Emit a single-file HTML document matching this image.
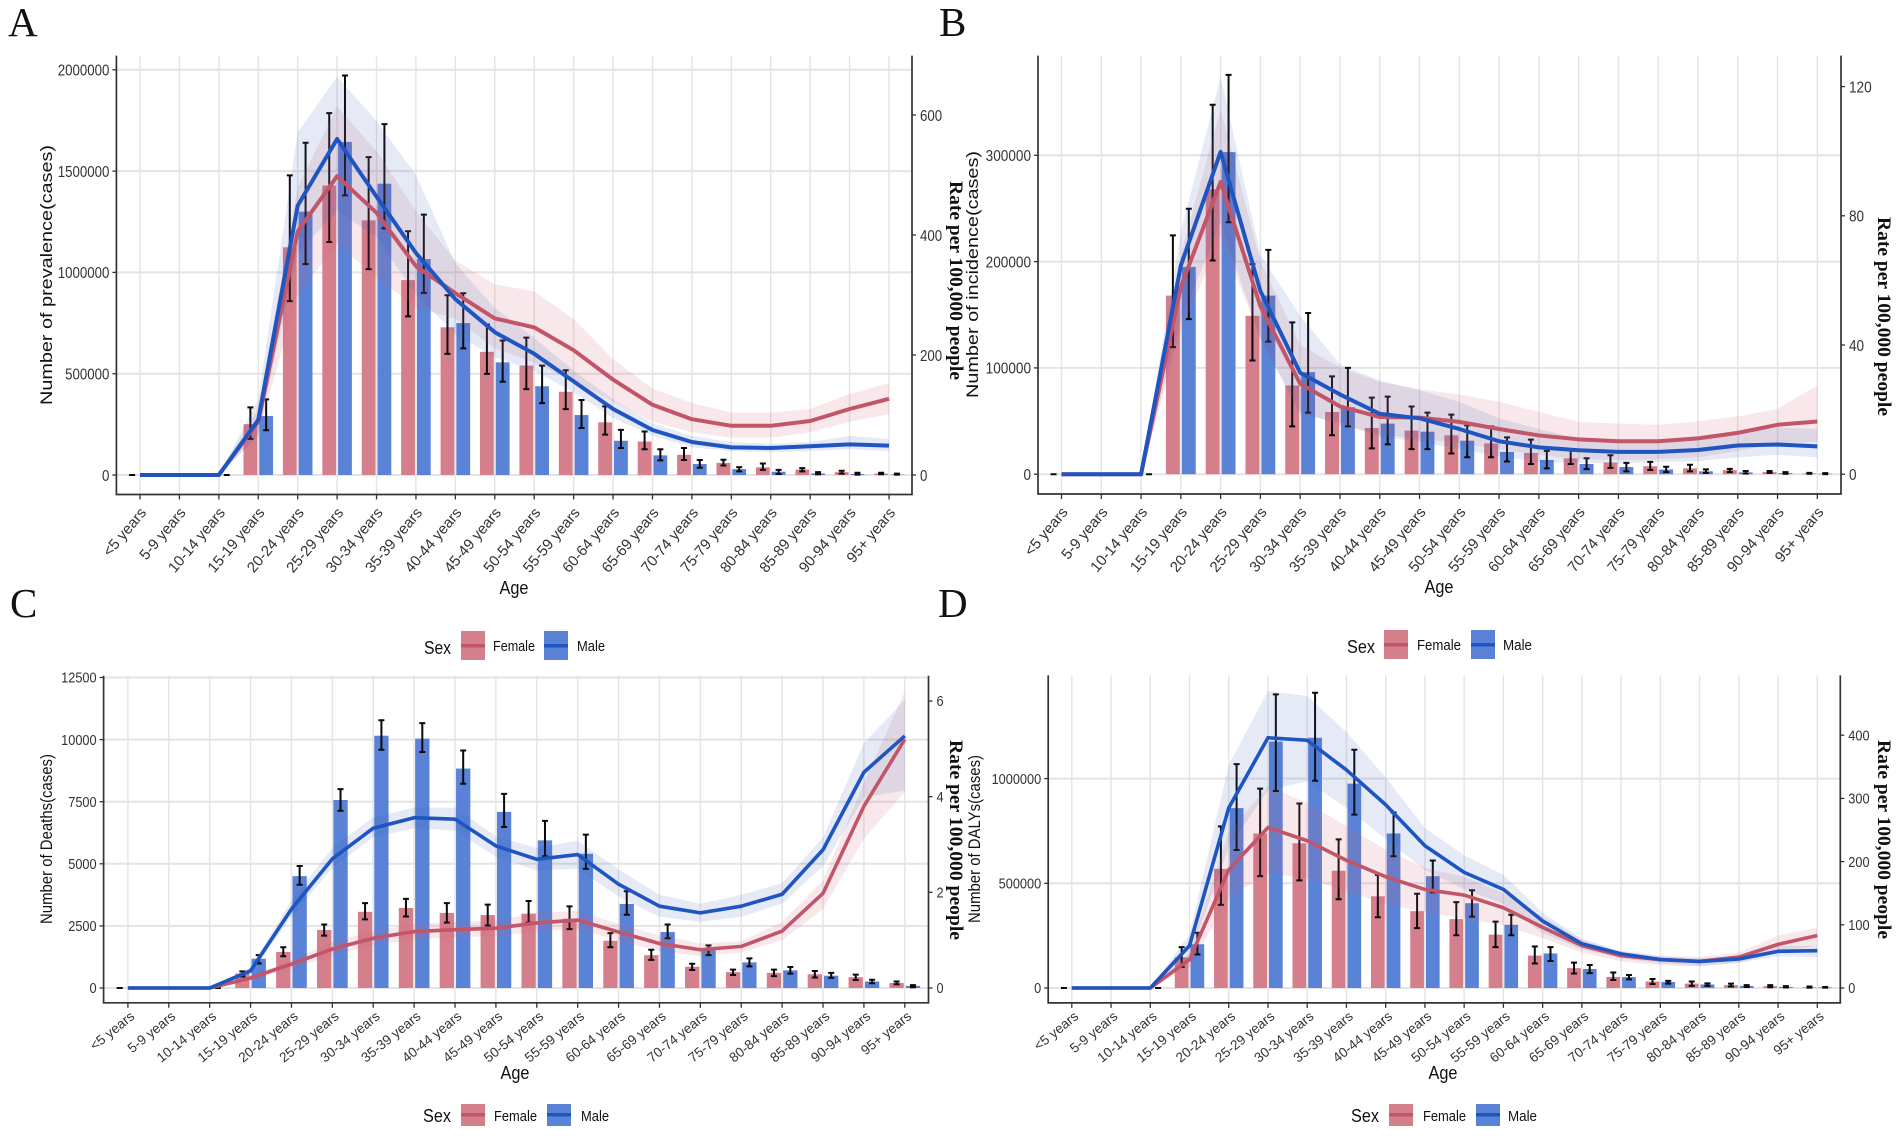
<!DOCTYPE html>
<html lang="en">
<head>
<meta charset="utf-8">
<title>Age and sex patterns of prevalence, incidence, deaths and DALYs</title>
<style>
html,body{margin:0;padding:0;background:#fff;}
svg{display:block;font-family:"Liberation Sans",sans-serif;filter:blur(0.35px);}
.letter{font-family:"Liberation Serif",serif;font-size:41px;fill:#111;}
.ytitle{font-size:16.5px;fill:#111;}
.rtitle{font-family:"Liberation Serif",serif;font-weight:bold;font-size:19px;fill:#111;}
.age{font-size:18px;fill:#111;}
.sex{font-size:18px;fill:#111;}
.lg{font-size:15px;fill:#111;}
</style>
</head>
<body>
<svg id="figure" xmlns="http://www.w3.org/2000/svg" width="1901" height="1136" viewBox="0 0 1901 1136">
<rect width="1901" height="1136" fill="#fff"/>

<g id="panel-a"></g>
<g id="panel-b"></g>
<g id="panel-c"></g>
<g id="panel-d"></g>

<g>
<text class="letter" x="8" y="36">A</text>
<text class="letter" x="939" y="36">B</text>
<text class="letter" x="10" y="617">C</text>
<text class="letter" x="938" y="617">D</text>
</g>

<g>
<text class="ytitle" transform="translate(52,405) rotate(-90)" textLength="260" lengthAdjust="spacingAndGlyphs">Number of prevalence(cases)</text>
<text class="ytitle" transform="translate(978,398) rotate(-90)" textLength="247" lengthAdjust="spacingAndGlyphs">Number of incidence(cases)</text>
<text class="ytitle" transform="translate(52,924) rotate(-90)" textLength="170" lengthAdjust="spacingAndGlyphs">Number of Deaths(cases)</text>
<text class="ytitle" transform="translate(980,923) rotate(-90)" textLength="168" lengthAdjust="spacingAndGlyphs">Number of DALYs(cases)</text>

<text class="rtitle" transform="translate(950,181) rotate(90)" textLength="199" lengthAdjust="spacingAndGlyphs">Rate per 100,000 people</text>
<text class="rtitle" transform="translate(1878,217) rotate(90)" textLength="199" lengthAdjust="spacingAndGlyphs">Rate per 100,000 people</text>
<text class="rtitle" transform="translate(950,740) rotate(90)" textLength="200" lengthAdjust="spacingAndGlyphs">Rate per 100,000 people</text>
<text class="rtitle" transform="translate(1878,740) rotate(90)" textLength="199" lengthAdjust="spacingAndGlyphs">Rate per 100,000 people</text>

<text class="age" x="514" y="594" text-anchor="middle" textLength="29" lengthAdjust="spacingAndGlyphs">Age</text>
<text class="age" x="1439" y="593" text-anchor="middle" textLength="29" lengthAdjust="spacingAndGlyphs">Age</text>
<text class="age" x="515" y="1079" text-anchor="middle" textLength="29" lengthAdjust="spacingAndGlyphs">Age</text>
<text class="age" x="1443" y="1079" text-anchor="middle" textLength="29" lengthAdjust="spacingAndGlyphs">Age</text>
</g>

<g>
<text class="sex" x="424" y="654" textLength="27" lengthAdjust="spacingAndGlyphs">Sex</text>
<rect x="461" y="631" width="24" height="29" fill="#d67f8c"/>
<rect x="461" y="644" width="24" height="3.5" fill="#c25568"/>
<text class="lg" x="493" y="651" textLength="42" lengthAdjust="spacingAndGlyphs">Female</text>
<rect x="544" y="631" width="24" height="29" fill="#5a83d8"/>
<rect x="544" y="644" width="24" height="3.5" fill="#1f55c0"/>
<text class="lg" x="577" y="651" textLength="28" lengthAdjust="spacingAndGlyphs">Male</text>
</g>
<g>
<text class="sex" x="1347" y="653" textLength="28" lengthAdjust="spacingAndGlyphs">Sex</text>
<rect x="1384" y="630" width="24" height="29" fill="#d67f8c"/>
<rect x="1384" y="643" width="24" height="3.5" fill="#c25568"/>
<text class="lg" x="1417" y="650" textLength="44" lengthAdjust="spacingAndGlyphs">Female</text>
<rect x="1471" y="630" width="24" height="29" fill="#5a83d8"/>
<rect x="1471" y="643" width="24" height="3.5" fill="#1f55c0"/>
<text class="lg" x="1503" y="650" textLength="29" lengthAdjust="spacingAndGlyphs">Male</text>
</g>
<g>
<text class="sex" x="423" y="1122" textLength="28" lengthAdjust="spacingAndGlyphs">Sex</text>
<rect x="461" y="1104" width="24" height="22" fill="#d67f8c"/>
<rect x="461" y="1113" width="24" height="3.5" fill="#c25568"/>
<text class="lg" x="494" y="1121" textLength="43" lengthAdjust="spacingAndGlyphs">Female</text>
<rect x="547" y="1104" width="24" height="22" fill="#5a83d8"/>
<rect x="547" y="1113" width="24" height="3.5" fill="#1f55c0"/>
<text class="lg" x="581" y="1121" textLength="28" lengthAdjust="spacingAndGlyphs">Male</text>
</g>
<g>
<text class="sex" x="1351" y="1122" textLength="28" lengthAdjust="spacingAndGlyphs">Sex</text>
<rect x="1389" y="1104" width="24" height="22" fill="#d67f8c"/>
<rect x="1389" y="1113" width="24" height="3.5" fill="#c25568"/>
<text class="lg" x="1423" y="1121" textLength="43" lengthAdjust="spacingAndGlyphs">Female</text>
<rect x="1476" y="1104" width="24" height="22" fill="#5a83d8"/>
<rect x="1476" y="1113" width="24" height="3.5" fill="#1f55c0"/>
<text class="lg" x="1508" y="1121" textLength="29" lengthAdjust="spacingAndGlyphs">Male</text>
</g>
</svg>

<script>
const ageCategories = ["<5 years","5-9 years","10-14 years","15-19 years","20-24 years","25-29 years","30-34 years","35-39 years","40-44 years","45-49 years","50-54 years","55-59 years","60-64 years","65-69 years","70-74 years","75-79 years","80-84 years","85-89 years","90-94 years","95+ years"];

/* Panel A: prevalence */
const prevCountTicks = [0,500000,1000000,1500000,2000000];
const prevRateTicks = [0,200,400,600];
const prevFemaleCount = [0,0,0,251000,1124000,1429000,1257000,962000,729000,608000,540000,411000,260000,165000,100000,60000,38000,27000,14000,7000];
const prevFemaleCountLow = [0,0,0,178000,858000,1150000,1016000,783000,598000,499000,424000,325000,199000,127000,74000,47000,25000,18000,7000,4000];
const prevFemaleCountHigh = [0,0,0,334000,1479000,1786000,1569000,1203000,887000,743000,678000,517000,339000,215000,133000,75000,57000,34000,21000,11000];
const prevMaleCount = [0,0,0,291000,1300000,1644000,1438000,1066000,750000,556000,438000,296000,169000,97000,54000,29000,16000,8000,5000,2000];
const prevMaleCountLow = [0,0,0,221000,1041000,1380000,1217000,899000,625000,460000,355000,232000,133000,72000,36000,18000,5000,4000,2000,2000];
const prevMaleCountHigh = [0,0,0,373000,1640000,1972000,1732000,1285000,897000,664000,540000,370000,223000,127000,74000,39000,25000,14000,11000,7000];
const prevFemaleRate = [0,0,0,89,406,498,437,348,303,261,246,208,159,117,93,82,82,90,110,127];
const prevFemaleRateLow = [0,0,0,68,300,385,330,280,260,211,187,156,123,89,71,62,62,71,89,101];
const prevFemaleRateHigh = [0,0,0,112,480,614,540,440,357,318,306,260,193,144,120,104,104,110,135,153];
const prevMaleRate = [0,0,0,92,449,560,464,370,293,238,202,156,110,75,55,46,45,48,51,49];
const prevMaleRateLow = [0,0,0,65,370,440,397,300,235,196,174,138,95,66,46,40,38,40,43,40];
const prevMaleRateHigh = [0,0,0,126,571,664,590,500,353,278,229,174,126,86,65,55,52,55,65,60];

/* Panel B: incidence */
const incCountTicks = [0,100000,200000,300000];
const incRateTicks = [0,40,80,120];
const incFemaleCount = [0,0,0,168000,268000,149000,83500,58500,43500,41000,36600,29000,20000,15000,11000,7500,5500,3800,2000,700];
const incFemaleCountLow = [0,0,0,119500,201000,107000,45000,36600,24300,23600,19500,16000,9600,9600,6000,4000,2700,2000,1300,400];
const incFemaleCountHigh = [0,0,0,224700,347600,197600,142800,92000,72000,63700,56000,45000,32500,23600,17800,11600,8900,5000,3000,1300];
const incMaleCount = [0,0,0,195000,303000,168000,96000,63000,47600,40000,31500,21000,13400,9600,6800,4400,2700,1700,1000,400];
const incMaleCountLow = [0,0,0,145900,237000,124700,57900,45000,28000,23600,16000,12000,5500,4800,2700,2000,1300,700,400,100];
const incMaleCountHigh = [0,0,0,249700,375700,211000,151700,100000,73000,57900,45900,34600,22000,15000,10600,7000,4500,3000,2000,1000];
const incFemaleRate = [0,0,0,58,90.5,52,28,21,17.7,17.5,16.2,14,12,10.8,10.2,10.2,11.1,12.8,15.3,16.3];
const incFemaleRateLow = [0,0,0,44,73.6,42,19.6,15,12.3,11,9.5,7.8,6,4.7,4.4,4.7,5.2,7.2,9.5,10];
const incFemaleRateHigh = [0,0,0,68,113,66,40,33,28.6,26.3,24.7,22.4,19.3,16.2,15.7,15.3,16.4,17.9,20.2,27.5];
const incMaleRate = [0,0,0,64.6,99.8,56.7,31.4,24.7,18.7,17.3,14,10.2,8.3,7.4,6.9,6.9,7.5,8.9,9.2,8.6];
const incMaleRateLow = [0,0,0,47.7,78,42,18.5,16,11.7,10,7.8,5.5,3.8,3.6,3.3,3.8,4,5.2,6,5.2];
const incMaleRateHigh = [0,0,0,75,123,68,49,34,29,26,22.4,17.3,14,11,10.4,10.2,11,12.8,14.5,14];

/* Panel C: deaths */
const deathCountTicks = [0,2500,5000,7500,10000,12500];
const deathRateTicks = [0,2,4,6];
const deathFemaleCount = [0,0,0,580,1453,2339,3066,3226,3022,2935,2993,2790,1903,1322,857,639,610,552,436,203];
const deathFemaleCountLow = [0,0,0,465,1279,2107,2761,2877,2630,2514,2630,2368,1642,1133,726,523,480,421,320,145];
const deathFemaleCountHigh = [0,0,0,668,1642,2557,3415,3589,3415,3356,3502,3284,2209,1540,974,741,741,683,538,262];
const deathMaleCount = [0,0,0,1177,4504,7570,10156,10040,8834,7090,5943,5405,3385,2252,1526,1032,712,494,262,87];
const deathMaleCountLow = [0,0,0,988,4156,7134,9590,9503,8224,6480,5303,4795,2950,2005,1322,872,581,407,189,29];
const deathMaleCountHigh = [0,0,0,1322,4911,8006,10781,10665,9561,7817,6727,6175,3894,2557,1715,1191,843,610,334,116];
const deathFemaleRate = [0,0,0,0.21,0.5,0.815,1.04,1.18,1.22,1.25,1.36,1.42,1.17,0.93,0.8,0.87,1.19,1.98,3.8,5.2];
const deathFemaleRateLow = [0,0,0,0.17,0.4,0.68,0.89,1.01,1.06,1.08,1.18,1.23,0.99,0.77,0.66,0.74,1,1.65,3.12,4.1];
const deathFemaleRateHigh = [0,0,0,0.25,0.59,0.97,1.19,1.34,1.38,1.42,1.57,1.61,1.34,1.1,0.93,0.98,1.38,2.25,4.29,6.2];
const deathMaleRate = [0,0,0,0.36,1.65,2.7,3.34,3.56,3.53,2.97,2.69,2.79,2.17,1.71,1.57,1.71,1.96,2.89,4.51,5.27];
const deathMaleRateLow = [0,0,0,0.3,1.49,2.51,3.15,3.34,3.29,2.74,2.46,2.49,1.91,1.49,1.38,1.49,1.76,2.55,3.98,4.13];
const deathMaleRateHigh = [0,0,0,0.44,1.83,2.93,3.57,3.77,3.77,3.17,2.93,3.08,2.48,1.95,1.76,1.95,2.19,3.15,5.12,6.02];

/* Panel D: DALYs */
const dalyCountTicks = [0,500000,1000000];
const dalyRateTicks = [0,100,200,300,400];
const dalyFemaleCount = [0,0,0,146500,569000,738000,691000,560000,438000,367000,329000,255000,155000,95000,53000,31000,21000,14000,9000,3500];
const dalyFemaleCountLow = [0,0,0,100000,397000,534000,514000,424000,338000,286000,252000,195000,117000,69000,38000,19000,10000,7000,3400,2000];
const dalyFemaleCountHigh = [0,0,0,195000,772000,952000,881000,710000,540000,450000,410000,317000,198000,121000,74000,43000,31000,21000,14000,7000];
const dalyMaleCount = [0,0,0,209000,859000,1177000,1195000,976000,738000,534000,405000,302000,165000,91000,52000,29000,17000,10000,5000,3000];
const dalyMaleCountLow = [0,0,0,160000,659000,941000,990000,828000,629000,457000,341000,252000,129000,71000,41000,21000,10000,5000,3000,2000];
const dalyMaleCountHigh = [0,0,0,264000,1069000,1402000,1410000,1138000,838000,609000,467000,350000,195000,110000,62000,34000,22000,14000,9000,5000];
const dalyFemaleRate = [0,0,0,45,187,254,233,202,176,156,147,127,96,67,51,45,42,49,69,83];
const dalyFemaleRateLow = [0,0,0,33,142,182,173,153,133,119,110,99,79,56,42,36,34,40,56,67];
const dalyFemaleRateHigh = [0,0,0,56,247,319,293,256,219,190,176,150,113,76,57,51,49,56,83,96];
const dalyMaleRate = [0,0,0,67,285,396,392,345,290,225,183,156,106,70,54,45,42,46,58,59];
const dalyMaleRateLow = [0,0,0,50,222,313,327,285,236,187,156,133,87,61,47,39,35,40,50,49];
const dalyMaleRateHigh = [0,0,0,85,353,470,462,405,333,253,210,179,119,78,59,50,47,51,67,67];

const NS = "http://www.w3.org/2000/svg";
const FEMALE_BAR = "#d67f8c", MALE_BAR = "#5a83d8";
const FEMALE_LINE = "#c25568", MALE_LINE = "#1f55c0";
const FEMALE_BAND = "rgba(205,90,110,0.14)", MALE_BAND = "rgba(45,85,180,0.125)";

function svgEl(parent, tag, attrs, text) {
  const el = document.createElementNS(NS, tag);
  for (const k in attrs) el.setAttribute(k, attrs[k]);
  if (text !== undefined) el.textContent = text;
  parent.appendChild(el);
  return el;
}

function drawPanel(p) {
  const g = document.getElementById(p.id);
  const n = ageCategories.length;
  const x = i => p.xFirst + (p.xLast - p.xFirst) * i / (n - 1);
  const yCount = v => p.zeroY - v * p.countScale;
  const yRate = v => p.zeroY - v * p.rateScale;
  const step = (p.xLast - p.xFirst) / (n - 1);
  const off = step * 0.2;
  const barW = step * 0.35;

  ageCategories.forEach((label, i) => {
    const line = svgEl(g, "line", {x1:x(i), x2:x(i), y1:p.top, y2:p.bottom, stroke:"#e4e4e4", "stroke-width":1.4});
    
    
  });
  p.countTicks.forEach(v => {
    const line = svgEl(g, "line", {x1:p.left, x2:p.right, y1:yCount(v), y2:yCount(v), stroke:"#e4e4e4", "stroke-width":2});
    
    
  });

  ageCategories.forEach((label, i) => {
    const fb = svgEl(g, "rect", {x:x(i)-off-barW/2, y:yCount(p.fc[i]), width:barW, height:Math.max(0, p.zeroY-yCount(p.fc[i])), fill:FEMALE_BAR});
    
    
    const mb = svgEl(g, "rect", {x:x(i)+off-barW/2, y:yCount(p.mc[i]), width:barW, height:Math.max(0, p.zeroY-yCount(p.mc[i])), fill:MALE_BAR});
    
    
  });

  function errorBar(cx, lo, hi) {
    const e = svgEl(g, "path", {
      d: "M"+cx+" "+yCount(hi)+"V"+yCount(lo)+"M"+(cx-3)+" "+yCount(hi)+"H"+(cx+3)+"M"+(cx-3)+" "+yCount(lo)+"H"+(cx+3),
      stroke:"#0a0a0a", "stroke-width":2, fill:"none"});
    return e;
  }
  ageCategories.forEach((label, i) => {
    const fe = errorBar(x(i)-off, p.fcLow[i], p.fcHigh[i]);
    
    
    const me = errorBar(x(i)+off, p.mcLow[i], p.mcHigh[i]);
    
    
  });

  function bandPath(lo, hi) {
    let d = "";
    for (let i = 0; i < n; i++) d += (i ? "L" : "M") + x(i) + " " + yRate(hi[i]);
    for (let i = n-1; i >= 0; i--) d += "L" + x(i) + " " + yRate(lo[i]);
    return d + "Z";
  }
  function linePath(vals) {
    let d = "";
    for (let i = 0; i < n; i++) d += (i ? "L" : "M") + x(i) + " " + yRate(vals[i]);
    return d;
  }
  const fBand = svgEl(g, "path", {d:bandPath(p.frLow, p.frHigh), fill:FEMALE_BAND});
  
  
  const mBand = svgEl(g, "path", {d:bandPath(p.mrLow, p.mrHigh), fill:MALE_BAND});
  
  
  const fLine = svgEl(g, "path", {d:linePath(p.fr), fill:"none", stroke:FEMALE_LINE, "stroke-width":p.lineW, "stroke-linejoin":"round"});
  
  
  const mLine = svgEl(g, "path", {d:linePath(p.mr), fill:"none", stroke:MALE_LINE, "stroke-width":p.lineW, "stroke-linejoin":"round"});
  
  

  const leftAxis = svgEl(g, "line", {x1:p.left, x2:p.left, y1:p.top, y2:p.bottom, stroke:"#333", "stroke-width":1.7});
  
  
  const rightAxis = svgEl(g, "line", {x1:p.right, x2:p.right, y1:p.top, y2:p.bottom, stroke:"#333", "stroke-width":1.7});
  
  
  const bottomAxis = svgEl(g, "line", {x1:p.left-0.8, x2:p.right+0.8, y1:p.bottom, y2:p.bottom, stroke:"#333", "stroke-width":1.7});
  
  

  p.countTicks.forEach(v => {
    const t = svgEl(g, "line", {x1:p.left-4, x2:p.left, y1:yCount(v), y2:yCount(v), stroke:"#333", "stroke-width":1.3});
    
    
    const l = svgEl(g, "text", {transform:"translate("+(p.left-7)+","+(yCount(v)+p.tickSize*0.36)+") scale("+p.tickSx+",1)", "text-anchor":"end", "font-size":p.tickSize, fill:"#333"}, String(v));
    
    
  });
  p.rateTicks.forEach(v => {
    const t = svgEl(g, "line", {x1:p.right, x2:p.right+4, y1:yRate(v), y2:yRate(v), stroke:"#333", "stroke-width":1.3});
    
    
    const l = svgEl(g, "text", {transform:"translate("+(p.right+8)+","+(yRate(v)+p.tickSize*0.36)+") scale("+p.tickSx+",1)", "font-size":p.tickSize, fill:"#333"}, String(v));
    
    
  });
  ageCategories.forEach((label, i) => {
    const t = svgEl(g, "line", {x1:x(i), x2:x(i), y1:p.bottom, y2:p.bottom+5, stroke:"#333", "stroke-width":1.3});
    
    
    const l = svgEl(g, "text", {transform:"translate("+(x(i)+p.labelDx)+","+(p.bottom+p.labelDy)+") rotate("+p.labelAngle+")", "text-anchor":"end", "font-size":p.labelSize, fill:"#333"}, label);
    
    
  });
}

drawPanel({id:"panel-a", xFirst:140, xLast:889, left:116.4, right:912, top:55.6, bottom:494.5, zeroY:475,
  countScale:101.3/500000, rateScale:0.6, countTicks:prevCountTicks, rateTicks:prevRateTicks,
  tickSize:16, tickSx:0.83, labelSize:15, labelAngle:-50, labelDx:7, labelDy:18.5, lineW:4,
  fc:prevFemaleCount, fcLow:prevFemaleCountLow, fcHigh:prevFemaleCountHigh,
  mc:prevMaleCount, mcLow:prevMaleCountLow, mcHigh:prevMaleCountHigh,
  fr:prevFemaleRate, frLow:prevFemaleRateLow, frHigh:prevFemaleRateHigh,
  mr:prevMaleRate, mrLow:prevMaleRateLow, mrHigh:prevMaleRateHigh});

drawPanel({id:"panel-b", xFirst:1061.5, xLast:1817.3, left:1038, right:1841, top:55.6, bottom:494, zeroY:474.2,
  countScale:106.3/100000, rateScale:129.2/40, countTicks:incCountTicks, rateTicks:incRateTicks,
  tickSize:16, tickSx:0.85, labelSize:15, labelAngle:-50, labelDx:7, labelDy:18.5, lineW:4,
  fc:incFemaleCount, fcLow:incFemaleCountLow, fcHigh:incFemaleCountHigh,
  mc:incMaleCount, mcLow:incMaleCountLow, mcHigh:incMaleCountHigh,
  fr:incFemaleRate, frLow:incFemaleRateLow, frHigh:incFemaleRateHigh,
  mr:incMaleRate, mrLow:incMaleRateLow, mrHigh:incMaleRateHigh});

drawPanel({id:"panel-c", xFirst:127.9, xLast:904.8, left:103.6, right:928.5, top:675.8, bottom:1002.8, zeroY:988,
  countScale:62.1/2500, rateScale:95.67/2, countTicks:deathCountTicks, rateTicks:deathRateTicks,
  tickSize:14.5, tickSx:0.88, labelSize:13.6, labelAngle:-39, labelDx:7.5, labelDy:15, lineW:3.6,
  fc:deathFemaleCount, fcLow:deathFemaleCountLow, fcHigh:deathFemaleCountHigh,
  mc:deathMaleCount, mcLow:deathMaleCountLow, mcHigh:deathMaleCountHigh,
  fr:deathFemaleRate, frLow:deathFemaleRateLow, frHigh:deathFemaleRateHigh,
  mr:deathMaleRate, mrLow:deathMaleRateLow, mrHigh:deathMaleRateHigh});

drawPanel({id:"panel-d", xFirst:1071.8, xLast:1817.3, left:1048.2, right:1840.3, top:675.4, bottom:1002.9, zeroY:988,
  countScale:104.7/500000, rateScale:63.2/100, countTicks:dalyCountTicks, rateTicks:dalyRateTicks,
  tickSize:14.5, tickSx:0.88, labelSize:13.6, labelAngle:-39, labelDx:7.5, labelDy:15, lineW:3.6,
  fc:dalyFemaleCount, fcLow:dalyFemaleCountLow, fcHigh:dalyFemaleCountHigh,
  mc:dalyMaleCount, mcLow:dalyMaleCountLow, mcHigh:dalyMaleCountHigh,
  fr:dalyFemaleRate, frLow:dalyFemaleRateLow, frHigh:dalyFemaleRateHigh,
  mr:dalyMaleRate, mrLow:dalyMaleRateLow, mrHigh:dalyMaleRateHigh});
</script>
</body>
</html>
